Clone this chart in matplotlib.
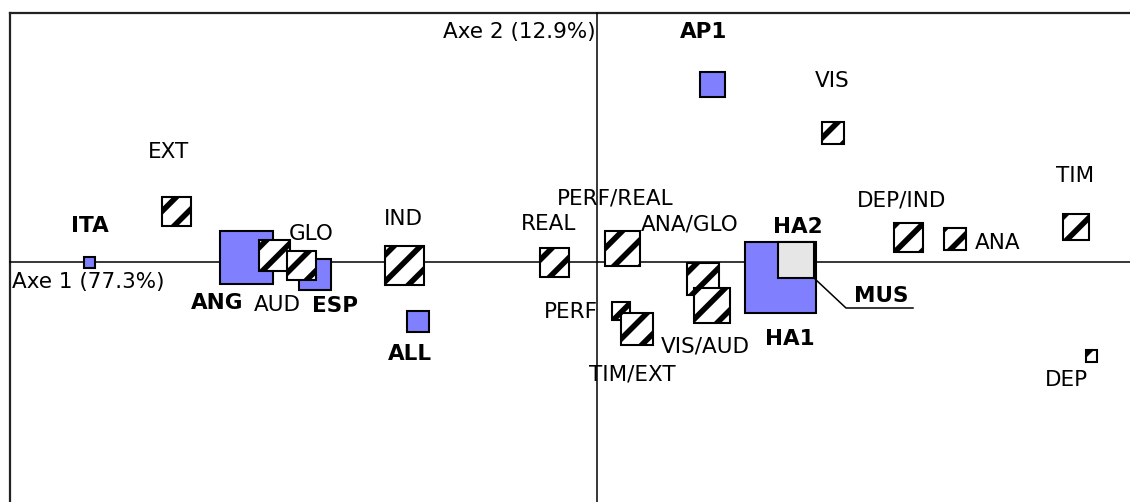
import matplotlib
matplotlib.use("Agg")
import matplotlib.pyplot as plt
from matplotlib.patches import Rectangle

plt.rcParams['font.family'] = ['DejaVu Sans']
plt.rcParams['hatch.linewidth'] = 5.0

# ---- data: factor coordinates (axis 1, axis 2) and mass (square side) ----
row_names = ["ITA", "ANG", "ESP", "ALL", "AP1", "HA1"]
row_x = [-5.08, -3.505, -2.82, -1.79, 1.15, 1.833]
row_y = [0.00, 0.05, -0.123, -0.595, 1.78, -0.155]
row_mass = [0.11, 0.53, 0.315, 0.215, 0.25, 0.705]

sup_names = ["MUS"]
sup_x = [1.99]
sup_y = [0.017]
sup_mass = [0.36]

col_names = ["EXT", "GLO", "AUD", "IND", "REAL", "PERF/REAL", "PERF", "TIM/EXT",
             "ANA/GLO", "VIS/AUD", "VIS", "DEP/IND", "ANA", "TIM", "DEP"]
col_x = [-4.205, -3.227, -2.96, -1.93, -0.425, 0.255, 0.24, 0.397,
         1.063, 1.15, 2.36, 3.11, 3.58, 4.79, 4.947]
col_y = [0.51, 0.07, -0.035, -0.035, 0.00, 0.14, -0.49, -0.665,
         -0.17, -0.435, 1.29, 0.245, 0.23, 0.35, -0.94]
col_mass = [0.29, 0.31, 0.29, 0.39, 0.29, 0.35, 0.177, 0.32,
            0.32, 0.357, 0.22, 0.29, 0.217, 0.255, 0.115]

axis_labels = ["Axe 1 (77.3%)", "Axe 2 (12.9%)"]

# ---- label placement (layout) ----
row_label_pos = {"ITA": (-5.07, 0.30), "ANG": (-3.80, -0.47), "ESP": (-2.62, -0.50),
                 "ALL": (-1.87, -0.98), "AP1": (1.07, 2.24), "HA1": (1.93, -0.83),
                 "HA2": (2.005, 0.29)}
mus_label_pos = (2.84, -0.40)
mus_leader = ([2.17, 2.49, 3.16], [-0.16, -0.46, -0.46])
col_label_pos = {"EXT": (-4.28, 1.04, "center"), "GLO": (-2.86, 0.22, "center"),
                 "AUD": (-3.20, -0.49, "center"), "IND": (-1.94, 0.37, "center"),
                 "REAL": (-0.483, 0.32, "center"), "PERF/REAL": (0.18, 0.58, "center"),
                 "PERF": (0.01, -0.56, "right"), "TIM/EXT": (0.35, -1.19, "center"),
                 "ANA/GLO": (0.93, 0.32, "center"), "VIS/AUD": (1.08, -0.91, "center"),
                 "VIS": (2.35, 1.75, "center"), "DEP/IND": (3.045, 0.56, "center"),
                 "ANA": (3.78, 0.13, "left"), "TIM": (4.78, 0.80, "center"),
                 "DEP": (4.695, -1.24, "center")}

BLUE = "#8080FF"
GRAY = "#E6E6E6"
DPI = 80
K = 100 / DPI          # keeps pixel sizes equal to a 100-dpi design
FS = 15.5 * K

fig = plt.figure(figsize=(1130 / DPI, 502 / DPI), dpi=DPI)
ax = fig.add_axes([0, 0, 1, 1])
ax.set_xlim(-5.97, 5.33)
ax.set_ylim(-2.40, 2.62)
ax.axis("off")

# frame (top and left) and factor axes
ax.plot([-5.87, 5.33], [2.49, 2.49], color="#222222", lw=1.6 * K, zorder=1)
ax.plot([-5.87, -5.87], [-2.40, 2.49], color="#222222", lw=1.6 * K, zorder=1)
ax.plot([0, 0], [-2.40, 2.49], color="black", lw=1.1 * K, zorder=1)
ax.plot([-5.87, 5.33], [0, 0], color="black", lw=1.1 * K, zorder=1)

def square(x, y, s, **kw):
    ax.add_patch(Rectangle((x - s / 2, y - s / 2), s, s, lw=1.5 * K,
                           edgecolor="black", **kw))

# row points (blue)
for x, y, s in zip(row_x, row_y, row_mass):
    square(x, y, s, facecolor=BLUE, zorder=2)

# column points (hatched)
for x, y, s in zip(col_x, col_y, col_mass):
    square(x, y, s, facecolor="white", hatch="/", zorder=3)

# supplementary point (gray)
for x, y, s in zip(sup_x, sup_y, sup_mass):
    square(x, y, s, facecolor=GRAY, zorder=3)

# labels
for name, (lx, ly) in row_label_pos.items():
    ax.text(lx, ly, name, ha="center", va="baseline", fontsize=FS,
            fontweight="bold", zorder=5)
for name, (lx, ly, ha) in col_label_pos.items():
    ax.text(lx, ly, name, ha=ha, va="baseline", fontsize=FS, zorder=5)

ax.text(mus_label_pos[0], mus_label_pos[1], sup_names[0], ha="center",
        va="baseline", fontsize=FS, fontweight="bold", zorder=5)
ax.plot(mus_leader[0], mus_leader[1], color="black", lw=1.1 * K, zorder=4)

ax.text(-5.85, -0.26, axis_labels[0], ha="left", va="baseline", fontsize=FS, zorder=5)
ax.text(-0.01, 2.24, axis_labels[1], ha="right", va="baseline", fontsize=FS, zorder=5)

fig.savefig("out.png", dpi=DPI)
